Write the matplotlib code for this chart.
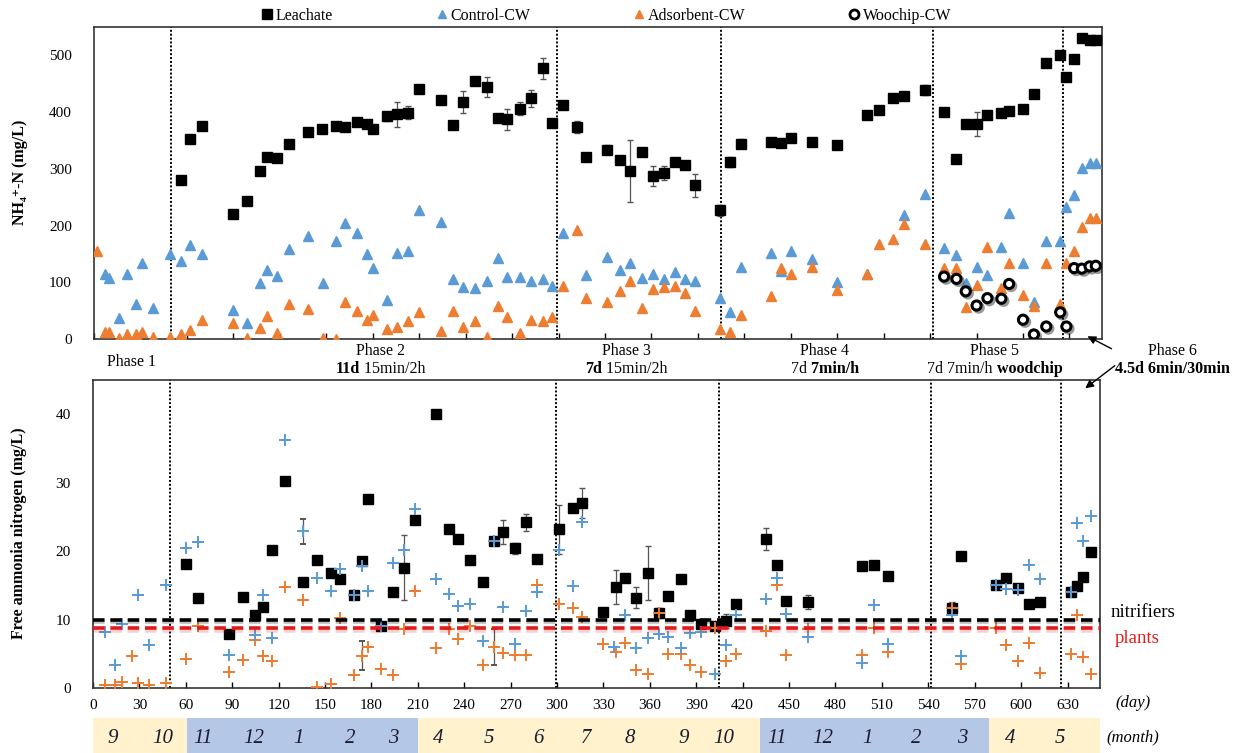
import numpy as np
import matplotlib
matplotlib.use('Agg')
import matplotlib.pyplot as plt
import matplotlib.transforms as mtransforms
import matplotlib.patheffects as pe
from matplotlib.lines import Line2D
from matplotlib.offsetbox import TextArea, HPacker, AnnotationBbox

SERIF = ['Liberation Serif', 'DejaVu Serif']
plt.rcParams['font.family'] = SERIF

# ---------------- data ----------------
# top panel: NH4+-N (mg/L)
leach_days = [56, 62, 70, 90, 99, 107, 112, 118, 126, 138, 147, 156, 162, 170, 176, 180,
              189, 196, 203, 210, 224, 232, 238, 246, 254, 261, 267, 275, 282, 290, 296,
              303, 312, 318, 331, 340, 346, 354, 361, 368, 375, 382, 388,
              404, 411, 418, 437, 444, 450, 464, 480, 499, 507, 516, 523, 537,
              549, 557, 563, 570, 577, 586, 591, 600, 607, 615, 624,
              628, 633, 638, 643, 647]
leach_nh4 = [281, 353, 376, 221, 243, 297, 321, 319, 344, 365, 371, 376, 373, 382, 379, 371,
             393, 396, 399, 440, 421, 378, 418, 455, 444, 390, 387, 406, 424, 477, 381,
             412, 374, 321, 334, 316, 296, 330, 287, 293, 312, 306, 271,
             227, 312, 344, 348, 346, 355, 348, 342, 394, 404, 425, 429, 439,
             400, 318, 379, 379, 394, 398, 402, 406, 432, 486, 500,
             462, 493, 530, 527, 527]
leach_nh4_err = [0, 0, 0, 0, 0, 0, 0, 0, 0, 0, 0, 0, 0, 0, 0, 0,
                 8, 22, 12, 0, 0, 6, 20, 5, 18, 0, 18, 12, 15, 18, 0,
                 0, 10, 0, 8, 0, 55, 0, 18, 12, 5, 0, 20,
                 10, 8, 8, 0, 0, 0, 0, 0, 0, 0, 0, 0, 8,
                 0, 0, 0, 22, 0, 0, 0, 0, 0, 0, 0,
                 0, 0, 0, 0, 0]

ctrl_days = [7, 10, 16, 21, 27, 31, 38, 49, 56, 62, 70, 90, 99, 107, 112, 118, 126, 138, 148,
             156, 162, 170, 176, 180, 189, 196, 203, 210, 224, 232, 238, 246, 254, 261, 267,
             275, 282, 290, 296, 303, 318, 331, 340, 346, 354, 361, 368, 375, 382, 388,
             404, 411, 418, 437, 444, 450, 464, 480, 499, 523, 537,
             549, 557, 563, 570, 577, 586, 591, 600, 607, 615, 624, 628, 633, 638, 643, 647]
ctrl_nh4 = [115, 108, 37, 115, 62, 134, 55, 149, 137, 166, 149, 51, 28, 99, 121, 111, 158, 182, 98,
            172, 204, 187, 149, 126, 68, 151, 155, 228, 206, 105, 92, 90, 103, 143, 109,
            109, 103, 105, 93, 186, 112, 145, 121, 134, 108, 114, 106, 118, 106, 102,
            72, 47, 127, 152, 119, 156, 141, 100, 114, 219, 256,
            160, 148, 98, 127, 112, 162, 222, 134, 65, 172, 172, 233, 253, 302, 311, 311]

ads_days = [2, 7, 10, 16, 21, 27, 31, 38, 49, 56, 62, 70, 90, 99, 107, 112, 118, 126, 138, 148,
            156, 162, 170, 176, 180, 189, 196, 203, 210, 224, 232, 238, 246, 254, 261, 267,
            275, 282, 290, 296, 303, 312, 318, 331, 340, 346, 354, 361, 368, 375, 382, 388,
            404, 411, 418, 437, 444, 450, 464, 480, 499, 507, 516, 523, 537,
            549, 557, 563, 570, 577, 586, 591, 600, 607, 615, 624, 628, 633, 638, 643, 647]
ads_nh4 = [156, 12, 12, 2, 8, 9, 13, 4, 4, 8, 16, 34, 28, 2, 19, 41, 11, 62, 53, 2,
           0, 66, 49, 33, 43, 18, 22, 31, 48, 14, 49, 22, 31, 4, 58, 38,
           11, 33, 31, 39, 94, 193, 72, 66, 84, 103, 55, 88, 92, 93, 81, 49,
           18, 12, 43, 76, 125, 114, 127, 86, 114, 168, 176, 203, 168,
           125, 125, 56, 96, 163, 90, 134, 78, 59, 134, 62, 134, 156, 197, 213, 213]

wood_days = [549, 557, 563, 570, 577, 586, 591, 600, 607, 615, 624, 628, 633, 638, 643, 647]
wood_nh4 = [110, 106, 84, 59, 72, 71, 97, 34, 8, 22, 47, 22, 125, 124, 128, 129]

# bottom panel: free ammonia nitrogen (mg/L)
leach_fan_days = [60, 68, 88, 97, 105, 110, 116, 124, 136, 145, 154, 160, 169, 174, 178, 186,
                  194, 201, 208, 222, 230, 236, 244, 252, 259, 265, 273, 280, 287,
                  301, 310, 316, 330, 338, 344, 351, 359, 366, 372, 380, 386, 393, 402,
                  409, 416, 435, 442, 448, 462, 497, 505, 514, 555, 561,
                  584, 590, 598, 605, 612, 632, 636, 640, 645]
leach_fan = [18.1, 13.2, 7.9, 13.3, 10.7, 11.9, 20.1, 30.2, 15.5, 18.7, 16.8, 15.9, 13.6, 18.5, 27.6, 9.1,
             14.0, 17.6, 24.6, 40.0, 23.3, 21.8, 18.7, 15.5, 21.5, 22.8, 20.4, 24.2, 18.9,
             23.2, 26.3, 27.0, 11.1, 14.7, 16.0, 13.2, 16.8, 11.0, 13.5, 15.9, 10.6, 9.3, 9.1,
             9.8, 12.3, 21.8, 17.9, 12.7, 12.6, 17.8, 18.0, 16.4, 11.7, 19.3,
             15.0, 16.1, 14.6, 12.3, 12.6, 14.0, 14.9, 16.2, 19.9]
leach_fan_err = [0, 0, 0, 0, 0, 0, 0, 0, 0, 0, 0, 0, 0, 0, 0, 0,
                 0, 4.8, 0, 0, 0, 0, 0, 0, 0, 1.8, 0.8, 1.2, 0,
                 3.6, 0, 2.2, 0, 2.5, 0, 1.5, 4.0, 0.7, 0, 0.5, 0, 0, 0,
                 1.0, 0, 1.6, 0, 0, 1.0, 0, 0.6, 0, 0.8, 0.6,
                 0, 0, 0, 0, 0, 0, 0, 0, 0]

ctrl_fan_days = [8, 14, 19, 29, 36, 47, 60, 68, 88, 105, 110, 116, 124, 136, 145, 154, 160, 169,
                 174, 178, 186, 194, 201, 208, 222, 230, 236, 244, 252, 259, 265, 273, 280, 287,
                 301, 310, 316, 337, 344, 351, 359, 366, 372, 380, 386, 393, 402, 409, 416,
                 435, 442, 448, 462, 497, 505, 514, 555, 561, 584, 590, 598, 605, 612,
                 632, 636, 640, 645]
ctrl_fan = [8.2, 3.3, 9.3, 13.6, 6.3, 15.0, 20.4, 21.3, 4.8, 7.8, 13.6, 7.3, 36.2, 22.9, 16.1, 14.2, 17.4, 13.6,
            17.8, 14.2, 9.1, 18.2, 20.2, 26.2, 15.9, 13.7, 12.0, 12.2, 6.8, 21.5, 11.8, 6.4, 11.2, 14.0,
            20.2, 14.9, 24.2, 6.0, 10.6, 5.8, 7.3, 7.9, 7.4, 5.8, 8.1, 8.2, 2.1, 6.3, 10.6,
            13.0, 16.1, 10.8, 7.4, 3.7, 12.1, 6.4, 10.7, 4.7, 15.0, 14.5, 14.3, 17.9, 15.9,
            14.0, 24.1, 21.5, 25.2]
ctrl_fan_err = [0, 0, 0, 0, 0, 0, 0, 0, 0, 0, 0, 0, 0, 1.8, 0, 0, 0, 0,
                0, 0, 0, 0, 0, 0, 0, 0, 0, 0, 0, 0, 0, 0, 0, 0,
                0, 0, 0, 0, 0, 0, 0, 0, 0, 0, 0, 0, 0, 0, 0,
                0, 0, 0, 0, 0, 0, 0, 0, 0, 0, 0, 0, 0, 0,
                0, 0, 0, 0]

ads_fan_days = [8, 14, 19, 25, 29, 36, 47, 60, 68, 88, 97, 105, 110, 116, 124, 136, 145, 154, 160,
                169, 174, 178, 186, 194, 201, 208, 222, 230, 236, 244, 252, 259, 265, 273, 280, 287,
                301, 310, 316, 330, 338, 344, 351, 359, 366, 372, 380, 386, 393, 402, 409, 416,
                435, 442, 448, 462, 497, 505, 514, 555, 561, 584, 590, 598, 605, 612,
                632, 636, 640, 645]
ads_fan = [0.4, 0.4, 0.9, 4.7, 0.7, 0.4, 0.7, 4.2, 9.0, 2.4, 4.1, 7.0, 4.7, 3.9, 14.7, 12.8, 0.1, 0.6, 10.2,
           1.9, 4.7, 6.0, 2.8, 1.9, 8.6, 14.2, 5.9, 8.6, 7.1, 9.0, 3.3, 6.0, 5.1, 4.8, 4.8, 15.0,
           12.3, 11.7, 10.4, 6.4, 5.2, 6.6, 2.7, 2.1, 11.0, 5.0, 4.9, 3.4, 2.4, 8.7, 4.0, 5.0,
           8.4, 15.0, 4.8, 8.6, 4.8, 8.7, 5.2, 11.7, 3.5, 8.7, 6.3, 4.0, 6.6, 2.2,
           5.0, 10.7, 4.5, 2.0]
ads_fan_err = [0, 0, 0, 0, 0, 0, 0, 0, 0, 0, 0, 0, 0, 0, 0, 0, 0, 0, 0,
               0, 2.1, 0, 0, 0, 0, 0, 0, 0, 0, 0, 0, 2.6, 0, 0, 0, 0,
               0, 0, 0, 0, 0, 0, 0, 0, 0, 0, 0, 0, 0, 0, 0, 0,
               0, 0, 0, 0, 0, 0, 0, 0, 0, 0, 0, 0, 0, 0,
               0, 0, 0, 0]

phase_ends = [50, 299, 405, 542, 626]
phase_names = ['Phase 1', 'Phase 2', 'Phase 3', 'Phase 4', 'Phase 5', 'Phase 6']
phase_centers = [25, 186, 345, 473, 583, 698]
phase_details = [None,
                 [('11d', True), (' 15min/2h', False)],
                 [('7d', True), (' 15min/2h', False)],
                 [('7d', False), (' 7min/h', True)],
                 [('7d 7min/h', False), (' woodchip', True)],
                 [('4.5d 6min/30min', True)]]

nitrifier_limit = 10.0
plant_limit = 8.7

season_edges = [0, 61, 210, 431, 579, 651]
season_colors = ['#fff2cc', '#b4c7e7', '#fff2cc', '#b4c7e7', '#fff2cc']
month_labels = ['9', '10', '11', '12', '1', '2', '3', '4', '5', '6', '7', '8', '9', '10',
                '11', '12', '1', '2', '3', '4', '5']
month_days = [13, 45, 71, 104, 133, 166, 194, 223, 256, 288, 319, 347, 382, 408,
              442, 472, 501, 532, 562, 593, 625]

BLUE = '#5b9bd5'
ORANGE = '#ed7d31'
XMAX = 651

# ---------------- figure ----------------
W, H = 1236, 753
fig = plt.figure(figsize=(W / 100, H / 100), dpi=100)

def px_axes(l, t, r, b):
    return fig.add_axes([l / W, 1 - b / H, (r - l) / W, (b - t) / H])

ax1 = px_axes(94, 27, 1102, 339)
ax2 = px_axes(93, 380, 1100, 688)

for ax in (ax1, ax2):
    ax.set_xlim(0, XMAX)
    ax.set_xticks(np.arange(0, 631, 30))
    ax.tick_params(axis='x', direction='in', length=4, width=1, top=False, labelsize=11, pad=8)
    ax.tick_params(axis='y', length=0, labelsize=11, pad=16)
    for s in ax.spines.values():
        s.set_linewidth(1.2)
        s.set_color('#333333')
    for d in phase_ends:
        ax.axvline(d, color='k', lw=1.4, ls=(0, (1, 1)), zorder=1)

ax1.tick_params(axis='x', labelbottom=False)

# top panel
ax1.errorbar(leach_days, leach_nh4, yerr=leach_nh4_err, fmt='s', color='k', ms=7.3,
             ecolor='#555555', elinewidth=0.9, capsize=2, zorder=3)
ax1.plot(ctrl_days, ctrl_nh4, '^', color=BLUE, ms=6.5, mec=BLUE, zorder=4)
ax1.plot(ads_days, ads_nh4, '^', color=ORANGE, ms=6.5, mec=ORANGE, zorder=5)
ax1.plot(wood_days, wood_nh4, 'o', mfc='white', mec='k', mew=2.2, ms=6.6, zorder=6,
         path_effects=[pe.SimpleLineShadow(offset=(1.5, -1.5), alpha=0.4), pe.Normal()])
ax1.set_ylim(0, 550)
ax1.set_yticks(np.arange(0, 501, 100))

# bottom panel
ax2.errorbar(leach_fan_days, leach_fan, yerr=leach_fan_err, fmt='s', color='k', ms=7.3,
             ecolor='#555555', elinewidth=0.9, capsize=2, zorder=3)
ax2.errorbar(ads_fan_days, ads_fan, yerr=ads_fan_err, fmt='+', color=ORANGE, ms=9, mew=1.4,
             ecolor='#555555', elinewidth=0.9, capsize=2, zorder=4)
ax2.errorbar(ctrl_fan_days, ctrl_fan, yerr=ctrl_fan_err, fmt='+', color=BLUE, ms=9, mew=1.4,
             ecolor='#555555', elinewidth=0.9, capsize=2, zorder=5)
ax2.axhline(nitrifier_limit, color='k', lw=2.6, ls=(0, (3.2, 1.6)), zorder=6,
            path_effects=[pe.SimpleLineShadow(offset=(0, -2), alpha=0.25), pe.Normal()])
ax2.axhline(plant_limit, color='#e31a1c', lw=2.6, ls=(0, (3.2, 1.6)), zorder=6,
            path_effects=[pe.SimpleLineShadow(offset=(0, -2), shadow_color='#e31a1c', alpha=0.2), pe.Normal()])
ax2.set_ylim(0, 45)
ax2.set_yticks(np.arange(0, 41, 10))

ax2.text(1.01, nitrifier_limit + 1.1, 'nitrifiers', transform=ax2.get_yaxis_transform(),
         fontsize=13.5, color='k', ha='left', va='center')
ax2.text(1.015, plant_limit - 1.5, 'plants', transform=ax2.get_yaxis_transform(),
         fontsize=13.5, color='#e31a1c', ha='left', va='center')

# y labels
fig.text(20 / W, 1 - 172 / H, 'NH₄⁺-N (mg/L)', rotation=90, ha='center', va='center',
         fontsize=11.5, fontweight='bold', family=SERIF)
fig.text(19 / W, 1 - 533 / H, 'Free ammonia nitrogen (mg/L)', rotation=90, ha='center',
         va='center', fontsize=11.5, fontweight='bold', family=SERIF)

# legend
handles = [Line2D([], [], ls='', marker='s', color='k', ms=7),
           Line2D([], [], ls='', marker='^', color=BLUE, ms=6),
           Line2D([], [], ls='', marker='^', color=ORANGE, ms=6),
           Line2D([], [], ls='', marker='o', mfc='white', mec='k', mew=2, ms=6.5)]
fig.legend(handles, ['Leachate', 'Control-CW', 'Adsorbent-CW', 'Woochip-CW'], loc='center',
           bbox_to_anchor=(606 / W, 1 - 16 / H), ncol=4, frameon=False, fontsize=11.5,
           handlelength=0.8, handletextpad=0.15, columnspacing=6.4, borderpad=0)

# phase labels between panels
trans = mtransforms.blended_transform_factory(ax2.transData, fig.transFigure)
for name, xc, parts in zip(phase_names, phase_centers, phase_details):
    if parts is None:
        fig.text(xc, 1 - 362 / H, name, transform=trans, ha='center', va='center', fontsize=11.5)
        continue
    fig.text(xc, 1 - 351 / H, name, transform=trans, ha='center', va='center', fontsize=11.5)
    boxes = [TextArea(t, textprops=dict(fontsize=11.5, fontweight='bold' if b else 'normal',
                                        family=SERIF)) for t, b in parts]
    pack = HPacker(children=boxes, pad=0, sep=0, align='baseline')
    ab = AnnotationBbox(pack, (xc, 1 - 369 / H), xycoords=trans, frameon=False,
                        box_alignment=(0.5, 0.5), annotation_clip=False, pad=0)
    fig.add_artist(ab)

# phase 6 arrows
fig.add_artist(matplotlib.patches.FancyArrowPatch((1114 / W, 1 - 350 / H), (1085 / W, 1 - 335 / H),
               transform=fig.transFigure, arrowstyle='-|>', mutation_scale=12, lw=1, color='k'))
fig.add_artist(matplotlib.patches.FancyArrowPatch((1117 / W, 1 - 364 / H), (1083 / W, 1 - 390 / H),
               transform=fig.transFigure, arrowstyle='-|>', mutation_scale=12, lw=1, color='k'))

# month band
axm = px_axes(93, 718, 1100, 760)
axm.set_xlim(0, XMAX)
axm.set_ylim(0, 1)
axm.axis('off')
for i, c in enumerate(season_colors):
    axm.axvspan(season_edges[i], season_edges[i + 1], color=c, lw=0)
for lab, d in zip(month_labels, month_days):
    axm.text(d, 0.52, lab, ha='center', va='center', fontsize=15, style='italic', color='#1c1c30')

fig.text(1133 / W, 1 - 703 / H, '(day)', ha='center', va='center', fontsize=12, style='italic')
fig.text(1133 / W, 1 - 737 / H, '(month)', ha='center', va='center', fontsize=12, style='italic')

fig.savefig('out.png', dpi=100)
